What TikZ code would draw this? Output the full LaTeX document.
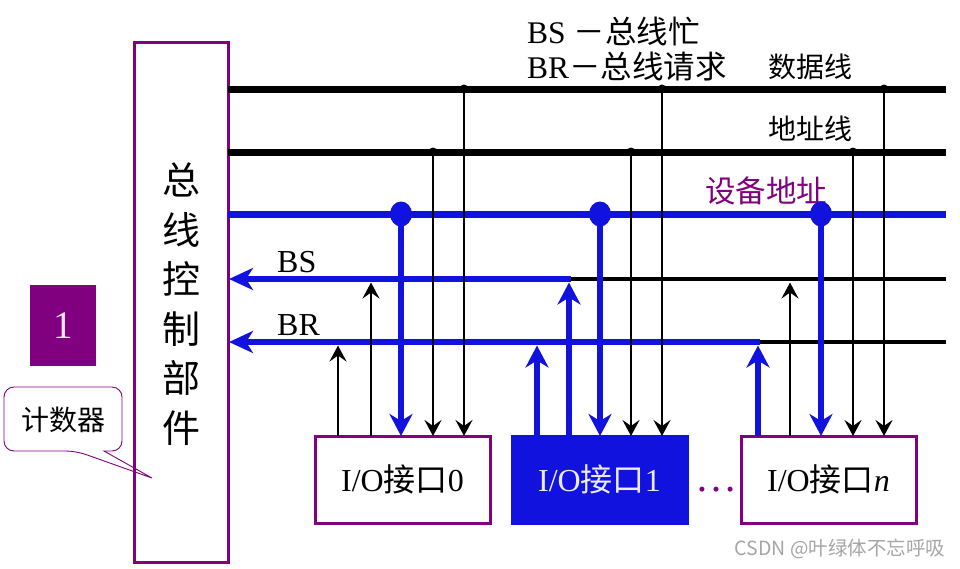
\documentclass[tikz,border=0pt]{standalone}
\usepackage{fontspec}
\setmainfont{Liberation Serif}
\newfontfamily\cjk{Noto Sans CJK SC}
\usetikzlibrary{arrows.meta}
\definecolor{busblue}{RGB}{18,18,222}
\definecolor{ppl}{RGB}{128,0,128}
\definecolor{txtlight}{RGB}{235,235,255}
\definecolor{onepink}{RGB}{255,230,248}
\begin{document}
\begin{tikzpicture}[x=1pt,y=-1pt,
  thickbus/.style={line width=7pt},
  devbus/.style={line width=7pt,busblue},
  sigblue/.style={line width=6pt,busblue},
  sigblk/.style={line width=3.5pt},
  vblk/.style={line width=2.8pt},
  vblue/.style={line width=6pt,busblue},
  tipblk/.style={-{Stealth[length=16pt,width=17pt,inset=6pt]}},
  tipblue/.style={-{Stealth[length=22pt,width=23pt,inset=7pt]}},
  tipblueL/.style={-{Stealth[length=24pt,width=22pt,inset=7pt]}},
  lbl/.style={inner sep=0pt,anchor=west,font=\fontsize{31.5}{36}\selectfont},
  iobox/.style={draw=ppl,line width=3pt,fill=white,minimum width=175pt,minimum height=87pt,
    outer sep=0pt,inner sep=0pt,font=\fontsize{32}{38}\selectfont},
]
\useasboundingbox[fill=white] (0,0) rectangle (960,568);

% control unit
\node[draw=ppl,line width=3pt,minimum width=94pt,minimum height=520pt,outer sep=0pt,inner sep=0pt] (ctrl) at (181,302) {};
\node[align=center,inner sep=0pt,font=\cjk\fontsize{38}{49.5}\selectfont] (ctrltxt) at (181,304) {总\\线\\控\\制\\部\\件};

% counter
\node[fill=ppl,minimum width=66pt,minimum height=81pt,inner sep=0pt,text=onepink,font=\fontsize{39}{44}\selectfont] (one) at (63,325.5) {1};
\draw[ppl,line width=0.9pt] (152,478) -- (104,451) [rounded corners=10pt] -- (122,451) -- (122,387) -- (4,387) -- (4,451) -- (76,451) [sharp corners] -- cycle;
\node[inner sep=0pt,font=\cjk\fontsize{28}{32}\selectfont] (cnt) at (63,420) {计数器};

% bus coordinates
\coordinate (dL) at (228,89);  \coordinate (dR) at (946,89);
\coordinate (aL) at (228,152); \coordinate (aR) at (946,152);
\coordinate (vL) at (228,214); \coordinate (vR) at (946,214);
\coordinate (bsL) at (229,279); \coordinate (bsT) at (571,279); \coordinate (bsR) at (946,279);
\coordinate (brL) at (229,342); \coordinate (brT) at (760,342); \coordinate (brR) at (946,342);

\draw[thickbus] (dL) -- (dR);
\draw[thickbus] (aL) -- (aR);
\draw[devbus] (vL) -- (vR);
\draw[sigblk] (bsT) -- (bsR);
\draw[sigblk] (brT) -- (brR);
\draw[sigblue,tipblueL] (bsT) -- (bsL);
\draw[sigblue,tipblueL] (brT) -- (brL);

% labels
\node[lbl] (bsdef) at (527,31) {BS {\cjk －总线忙}};
\node[lbl] (brdef) at (527,67) {BR{\cjk －总线请求}};
\node[lbl,font=\cjk\fontsize{28}{32}\selectfont] (datal) at (768,67) {数据线};
\node[lbl,font=\cjk\fontsize{28}{32}\selectfont] (addrl) at (768,129) {地址线};
\node[lbl,font=\cjk\fontsize{30.5}{34}\selectfont,text=ppl] (devl) at (705,191) {设备地址};
\node[lbl,font=\fontsize{32}{36}\selectfont] (bsl) at (277,262) {BS};
\node[lbl,font=\fontsize{32}{36}\selectfont] (brl) at (277,325) {BR};

% I/O boxes
\node[iobox] (io0) at (402.5,479.5) {I/O{\cjk 接口}0};
\node[iobox,fill=busblue,draw=busblue,text=txtlight] (io1) at (599.5,479.5) {I/O{\cjk 接口}1};
\node[iobox] (ion) at (828.5,479.5) {I/O{\cjk 接口}\textit{n}};
\node[inner sep=0pt,anchor=base,text=ppl,font=\fontsize{42}{46}\selectfont] (dots) at (716,491) {…};

% tap coordinates
\coordinate (d0) at (464,89);  \coordinate (d1) at (662,89);  \coordinate (dn) at (884,89);
\coordinate (a0) at (433,152); \coordinate (a1) at (631,152); \coordinate (an) at (853,152);
\coordinate (v0) at (401,214); \coordinate (v1) at (600,214); \coordinate (vn) at (821,214);
\coordinate (r0) at (338,345.5); \coordinate (r1) at (537,345.5); \coordinate (rn) at (758,345.5);
\coordinate (s0) at (371,282.5); \coordinate (s1) at (569,282.5); \coordinate (sn) at (790,282.5);

% downward lines
\foreach \d/\a/\v/\b in {d0/a0/v0/io0,d1/a1/v1/io1,dn/an/vn/ion}{
  \draw[vblk,tipblk] (\d) -- (\d |- \b.north);
  \draw[vblk,tipblk] (\a) -- (\a |- \b.north);
  \draw[vblue,tipblue] (\v) -- (\v |- \b.north);
  \fill (\d) circle (4.5pt);
  \fill (\a) circle (4.5pt);
  \fill[busblue] (\v) ellipse [x radius=11pt,y radius=12.5pt];
}

% upward lines
\draw[vblk,tipblk] (r0 |- io0.north) -- (r0);
\draw[vblk,tipblk] (s0 |- io0.north) -- (s0);
\draw[vblue,tipblue] (r1 |- io1.north) -- (r1);
\draw[vblue,tipblue] (s1 |- io1.north) -- (s1);
\draw[vblue,tipblue] (rn |- ion.north) -- (rn);
\draw[vblk,tipblk] (sn |- ion.north) -- (sn);

% watermark
\node[inner sep=0pt,text=black!35,font=\cjk\fontsize{19.5}{22}\selectfont] (wm) at (840,549) {CSDN @叶绿体不忘呼吸};
\end{tikzpicture}
\end{document}
